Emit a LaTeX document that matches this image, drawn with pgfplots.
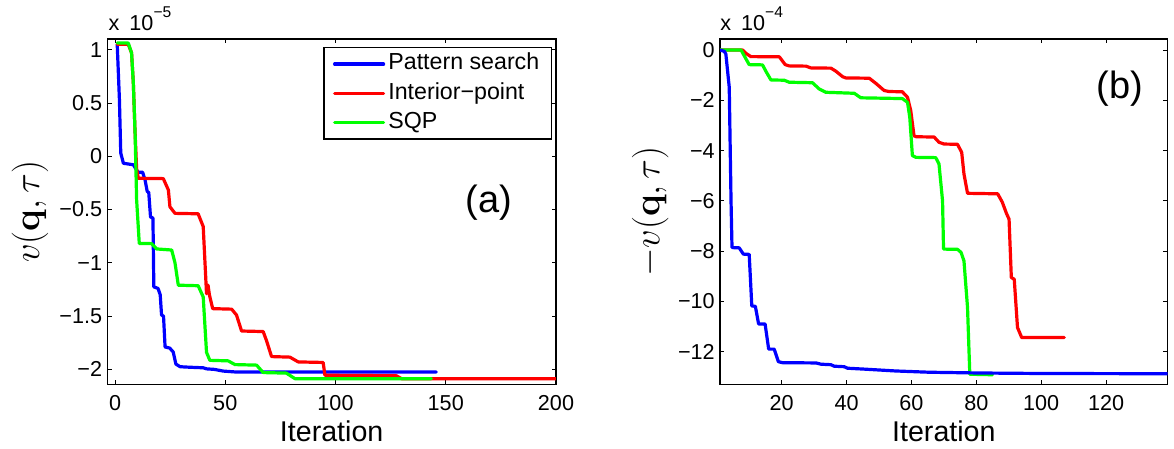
\RequirePackage{fix-cm}
\documentclass[border=0pt]{standalone}
\usepackage[no-math]{fontspec}
\setmainfont{Liberation Sans}
\usepackage{pgfplots}
\pgfplotsset{compat=1.18}
\definecolor{mblue}{RGB}{0,0,255}
\definecolor{mred}{RGB}{255,0,0}
\definecolor{mgreen}{RGB}{0,255,0}
\pgfplotsset{
  mstyle/.style={
    scale only axis,
    height=172.65pt,
    axis line style={line width=0.6pt, black},
    tick align=inside,
    major tick length=2.2pt,
    every tick/.style={black, line width=0.4pt},
    tick label style={font=\fontsize{10.8}{13}\selectfont},
    xticklabel style={yshift=-1.9pt},
    yticklabel style={xshift=0.9pt},
    xlabel={Iteration},
    xlabel style={at={(axis description cs:0.5,-0.1662)}, anchor=base, font=\fontsize{14.3}{17}\selectfont},
    every axis plot/.append style={line width=1.6pt, line join=round, line cap=round},
    legend image code/.code={\draw[#1] (0pt,0pt) -- (24.5pt,0pt);},
  }
}
\begin{document}
\begin{tikzpicture}
\useasboundingbox (0,0) rectangle (587pt,-224.5pt);
% ---------------- panel (a)
\begin{axis}[mstyle,
  at={(53.65pt,-192.15pt)}, anchor=south west,
  width=224.35pt,
  xmin=-3.5, xmax=200, ymin=-2.14, ymax=1.1,
  xtick={0,50,100,150,200}, xticklabels={0,50,100,150,200},
  ytick={-2,-1.5,-1,-0.5,0,0.5,1},
  yticklabels={−2,−1.5,−1,−0.5,0,0.5,1},
  ylabel={$v(\mathbf{q},\tau)$},
  ylabel style={at={(axis description cs:-0.1726,0.5)}, anchor=center, font=\fontsize{18.3}{22}\selectfont},
  legend cell align=left,
  legend style={at={(0.4816,0.976)}, anchor=north west, draw=black, line width=0.6pt, fill=white,
    inner xsep=4.5pt, inner ysep=0.75pt, font=\fontsize{11.6}{13}\selectfont,
    nodes={inner xsep=1.6pt, inner ysep=2pt, text height=8.2pt, text depth=2.5pt}, row sep=0pt},
]
\addplot[mblue] coordinates {(1,1.05) (2,0.53) (2.6,0.03) (3.8,-0.066) (8.3,-0.08) (9.8,-0.13) (10.5,-0.15) (12.5,-0.15) (13.6,-0.22) (14.6,-0.33) (15.3,-0.34) (16.1,-0.57) (17.2,-0.58) (17.4,-0.9) (17.6,-1.226) (19.5,-1.24) (20.5,-1.30) (21.1,-1.49) (22,-1.50) (22.7,-1.79) (24.8,-1.80) (26.4,-1.837) (27.6,-1.95) (29.5,-1.975) (34,-1.98) (40,-1.985) (41.5,-1.995) (45,-2.0) (49.1,-2.016) (55.1,-2.025) (145.7,-2.025)};
\addlegendentry{Pattern search}
\addplot[mred] coordinates {(1,1.05) (6,1.05) (7.5,0.97) (8.3,0.69) (9.1,0.22) (9.8,-0.12) (10.6,-0.207) (21.9,-0.21) (24.2,-0.317) (24.9,-0.474) (27.2,-0.536) (37.7,-0.54) (40,-0.66) (41.5,-1.29) (42.2,-1.21) (42.8,-1.3) (44.3,-1.43) (52.9,-1.435) (55.1,-1.49) (57.4,-1.64) (67.2,-1.645) (68.7,-1.73) (71,-1.88) (79.3,-1.885) (83.1,-1.93) (94.4,-1.935) (95.2,-2.055) (127.6,-2.06) (129.9,-2.087) (200,-2.087)};
\addlegendentry{Interior−point}
\addplot[mgreen] coordinates {(1,1.062) (6,1.062) (7.5,0.97) (8.3,0.69) (9.1,0.22) (9.8,-0.41) (11,-0.818) (16.6,-0.82) (18.9,-0.87) (25.7,-0.88) (27.2,-1.0) (28.7,-1.21) (37.7,-1.215) (40,-1.32) (41.5,-1.84) (43,-1.915) (51.3,-1.92) (54.4,-1.955) (64.2,-1.96) (67.2,-2.03) (77.7,-2.035) (81.6,-2.087) (143.5,-2.087)};
\addlegendentry{SQP}
\end{axis}
% ---------------- panel (b)
\begin{axis}[mstyle,
  at={(360pt,-192.15pt)}, anchor=south west,
  width=223.85pt,
  xmin=1, xmax=139, ymin=-13.3, ymax=0.44,
  xtick={20,40,60,80,100,120}, xticklabels={20,40,60,80,100,120},
  ytick={-12,-10,-8,-6,-4,-2,0},
  yticklabels={−12,−10,−8,−6,−4,−2,0},
  ylabel={$-v(\mathbf{q},\tau)$},
  ylabel style={at={(axis description cs:-0.1556,0.5)}, anchor=center, font=\fontsize{18.3}{22}\selectfont},
]
\addplot[mred] coordinates {(1,0) (7.95,0) (9,-0.13) (10.5,-0.26) (19.3,-0.27) (21.1,-0.58) (22.3,-0.63) (27.5,-0.64) (29,-0.71) (35.2,-0.72) (36.7,-0.84) (38.8,-1.06) (39.8,-1.11) (47,-1.12) (49,-1.32) (51.6,-1.61) (53.1,-1.65) (57.2,-1.66) (58.8,-1.88) (59.8,-2.41) (60.8,-3.41) (61.5,-3.45) (67,-3.46) (68.5,-3.67) (70.1,-3.74) (74.2,-3.75) (75.5,-4.07) (76.2,-4.93) (77.3,-5.7) (86.6,-5.72) (88,-6.05) (89.3,-6.5) (90.1,-6.73) (90.8,-9.05) (91.7,-9.12) (92.7,-11.04) (94,-11.44) (107.1,-11.44)};
\addplot[mgreen] coordinates {(1,0) (7.5,0) (9,-0.35) (10,-0.58) (14.1,-0.59) (15.3,-0.88) (16.7,-1.19) (20.8,-1.2) (22.3,-1.28) (29.5,-1.3) (31.6,-1.55) (33.6,-1.68) (42.4,-1.72) (44.4,-1.9) (57.2,-1.93) (58.8,-2.08) (59.5,-2.68) (60.3,-4.2) (61.4,-4.27) (67.5,-4.28) (68.5,-4.53) (69.6,-6) (69.9,-7.92) (74.2,-7.93) (75.3,-8.05) (76.2,-8.39) (77.3,-10.25) (78,-12.9) (85,-12.92)};
\addplot[mblue] coordinates {(1,0) (2.3,-0.05) (2.8,-0.15) (3.85,-1.48) (4.4,-6) (4.7,-7.86) (6.9,-7.87) (8.2,-8.12) (10,-8.13) (10.8,-10.18) (11.9,-10.2) (12.9,-10.9) (14.9,-10.9) (16,-11.9) (17.7,-11.9) (19,-12.4) (20.3,-12.44) (30.6,-12.45) (32.1,-12.5) (35.2,-12.52) (36.2,-12.58) (39.3,-12.6) (40.3,-12.66) (46,-12.7) (55.2,-12.77) (65.5,-12.82) (80.9,-12.85) (100,-12.87) (139,-12.88)};
\end{axis}
% ---------------- annotations
\node[anchor=base west, inner sep=0pt, font=\fontsize{10.8}{13}\selectfont] at (54.15pt,-15.35pt) {x\hspace{5pt}10\raisebox{6.5pt}{\fontsize{7.8}{9}\selectfont −5}};
\node[anchor=base west, inner sep=0pt, font=\fontsize{10.8}{13}\selectfont] at (360pt,-15.35pt) {x\hspace{5pt}10\raisebox{6.5pt}{\fontsize{7.8}{9}\selectfont −4}};
\node[inner sep=0pt, font=\fontsize{19}{23}\selectfont] at (244.5pt,-101.25pt) {(a)};
\node[inner sep=0pt, font=\fontsize{19}{23}\selectfont] at (560pt,-44.5pt) {(b)};
\end{tikzpicture}
\end{document}
